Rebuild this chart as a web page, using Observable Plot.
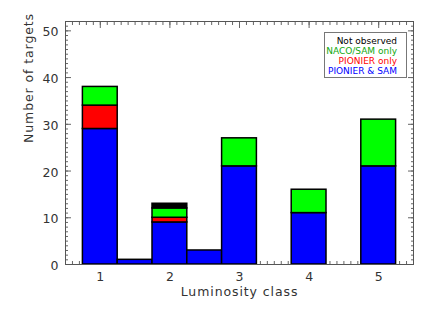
<!DOCTYPE html>
<html>
<head>
<meta charset="utf-8">
<script src="https://cdn.jsdelivr.net/npm/d3@7"></script>
<script src="https://cdn.jsdelivr.net/npm/@observablehq/plot@0.6"></script>
<style>
  body { margin: 0; background: #fff; }
  #wrap { position: relative; width: 436px; height: 312px; }
  #legend {
    position: absolute; left: 324px; top: 32px; width: 83px; height: 46px;
    box-sizing: border-box; border: 1px solid #777; background: #fff;
    font-family: "DejaVu Sans", sans-serif; font-size: 9px; line-height: 10px;
    text-align: right; padding: 3px 9px 0 0; white-space: nowrap;
  }
  #legend div { direction: rtl; unicode-bidi: plaintext; }
</style>
</head>
<body>
<div id="wrap"><div id="legend"></div></div>
<script>
const classes      = [1, 1.5, 2, 2.5, 3, 4, 5];
const pionierSam   = [29, 1, 9, 3, 21, 11, 21];
const pionierOnly  = [5, 0, 1, 0, 0, 0, 0];
const nacoSamOnly  = [4, 0, 2, 0, 6, 5, 10];
const notObserved  = [0, 0, 1, 0, 0, 0, 0];

const seriesNames  = ["PIONIER & SAM", "PIONIER only", "NACO/SAM only", "Not observed"];
const seriesFill   = ["#0000ff", "#ff0000", "#00ff00", "#000000"];
const legendText   = ["#0000ff", "#ff0000", "#10a810", "#000000"];
const xTicks       = [1, 2, 3, 4, 5];
const yTicks       = [0, 10, 20, 30, 40, 50];
const xMinor       = d3.range(5, 56).map(v => v / 10);
const yMinor       = d3.range(0, 53);

const seriesValues = [pionierSam, pionierOnly, nacoSamOnly, notObserved];
const rows = [];
classes.forEach((c, i) => {
  let base = 0;
  seriesValues.forEach((vals, s) => {
    const v = vals[i];
    if (v > 0) rows.push({cls: c, series: seriesNames[s], y1: base, y2: base + v});
    base += v;
  });
});

const font = "DejaVu Sans, sans-serif";
const chart = Plot.plot({
  width: 436, height: 312,
  marginLeft: 65, marginRight: 23, marginTop: 21, marginBottom: 48,
  style: {fontFamily: font, color: "#333", background: "#fff"},
  x: {domain: [0.5, 5.5]},
  y: {domain: [0, 52]},
  color: {domain: seriesNames, range: seriesFill},
  marks: [
    Plot.axisX({anchor: "bottom", ticks: xMinor, tickSize: -3, text: null, label: null, stroke: "#666"}),
    Plot.axisX({anchor: "top", ticks: xMinor, tickSize: -3, text: null, label: null, stroke: "#666"}),
    Plot.axisX({anchor: "bottom", ticks: xTicks, tickSize: -6, text: null, label: null, stroke: "#666"}),
    Plot.axisX({anchor: "top", ticks: xTicks, tickSize: -6, text: null, label: null, stroke: "#666"}),
    Plot.axisY({anchor: "left", ticks: yMinor, tickSize: -3, text: null, label: null, stroke: "#666"}),
    Plot.axisY({anchor: "right", ticks: yMinor, tickSize: -3, text: null, label: null, stroke: "#666"}),
    Plot.axisY({anchor: "left", ticks: yTicks, tickSize: -6, text: null, label: null, stroke: "#666"}),
    Plot.axisY({anchor: "right", ticks: yTicks, tickSize: -6, text: null, label: null, stroke: "#666"}),
    Plot.rect(rows, {
      x1: d => d.cls - 0.25, x2: d => d.cls + 0.25,
      y1: "y1", y2: "y2", fill: "series",
      stroke: "#000", strokeWidth: 1.5
    }),
    Plot.frame({stroke: "#555", strokeWidth: 1}),
    Plot.axisX({anchor: "bottom", ticks: xTicks, tickSize: 0, tickPadding: 8, fontSize: 12.5, label: null, tickFormat: d3.format("d")}),
    Plot.axisY({anchor: "left", ticks: yTicks, tickSize: 0, tickPadding: 7, dy: 1.5, fontSize: 12.5, label: null}),
    Plot.text(["Luminosity class"], {frameAnchor: "bottom", dy: 31, text: d => d, fontSize: 12.5, fill: "#333"}),
    Plot.text(["Number of targets"], {frameAnchor: "left", dx: -37, rotate: -90, text: d => d, fontSize: 12.5, fill: "#333"})
  ]
});
chart.querySelectorAll("g[aria-label='text']").forEach(g => g.setAttribute("letter-spacing", "0.9"));
document.getElementById("wrap").prepend(chart);

const legend = document.getElementById("legend");
[3, 2, 1, 0].forEach(s => {
  const div = document.createElement("div");
  div.textContent = seriesNames[s];
  div.style.color = legendText[s];
  legend.appendChild(div);
});
</script>
</body>
</html>
